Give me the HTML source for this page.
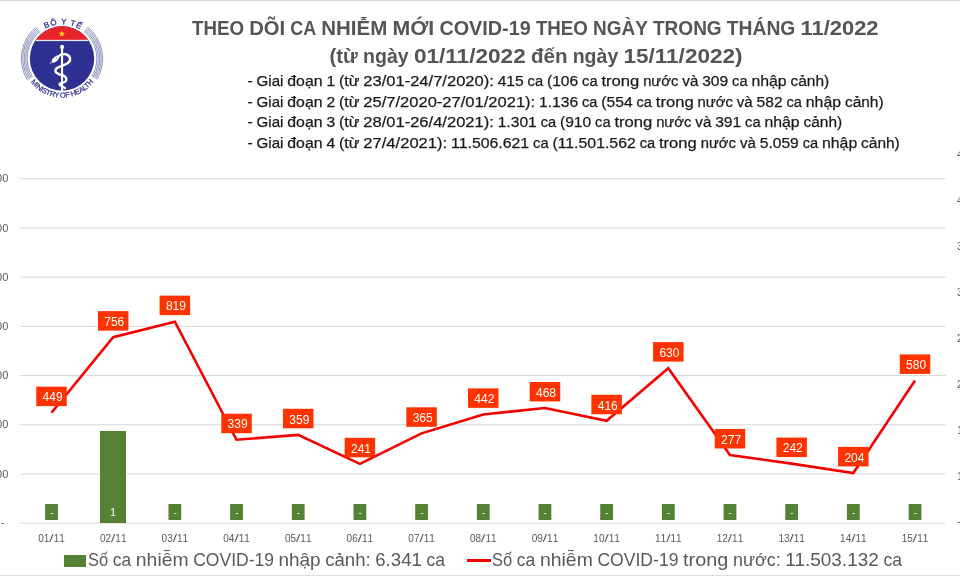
<!DOCTYPE html>
<html><head><meta charset="utf-8">
<style>
html,body{margin:0;padding:0;background:#fff;}
body{width:960px;height:576px;overflow:hidden;position:relative;}
svg{position:absolute;left:0;top:0;display:block;will-change:transform;}
text{font-family:"Liberation Sans",sans-serif;}
</style></head><body>
<svg width="960" height="576" viewBox="0 0 960 576">
<rect x="0" y="0" width="960" height="576" fill="#fff"/>
<rect x="0" y="0" width="960" height="1" fill="#d9d9d9"/>
<rect x="0" y="575" width="960" height="1" fill="#dcdcdc"/>
<g id="logo"><path d="M40.04 31.38A34.9 34.9 0 0 0 32.40 76.99M83.96 31.38A34.9 34.9 0 0 1 91.92 76.47M39.12 30.25A36.35 36.35 0 0 0 31.17 77.76M84.88 30.25A36.35 36.35 0 0 1 93.16 77.22M38.21 29.12A37.8 37.8 0 0 0 29.94 78.53M85.79 29.12A37.8 37.8 0 0 1 94.40 77.97M37.30 28.00A39.25 39.25 0 0 0 28.71 79.30M86.70 28.00A39.25 39.25 0 0 1 95.64 78.72M36.39 26.87A40.7 40.7 0 0 0 27.48 80.07M87.61 26.87A40.7 40.7 0 0 1 96.89 79.46" fill="none" stroke="#7479ad" stroke-width="0.8"/>
<circle cx="62.0" cy="58.5" r="32.2" fill="#2e3191"/>
<path d="M35.64 40.0A32.2 32.2 0 0 1 88.36 40.0Z" fill="#e8232a"/>
<rect x="35.64" y="39.8" width="52.71" height="1.3" fill="#e6e6f0"/>
<polygon points="61.80,30.50 61.01,32.71 58.66,32.78 60.52,34.22 59.86,36.47 61.80,35.15 63.74,36.47 63.08,34.22 64.94,32.78 62.59,32.71" fill="#ffe600"/>
<rect x="61.0" y="46" width="2.1" height="45" fill="#fff"/>
<ellipse cx="62.1" cy="47" rx="2.0" ry="2.2" fill="#fff"/>
<path d="M59.7 55.3 C63 53.5 68.5 53.5 70 58 C71 62 66 64.5 62 65.8 C58 67 55 68.5 55.4 71 C55.8 73.5 59 74.5 63 75.5 C66 76.5 67.5 79 65.5 81.5 C64 83 60 82.5 59.5 84.2 C59.3 85.5 62 86 65 88" fill="none" stroke="#fff" stroke-width="2.4" stroke-linecap="round" stroke-linejoin="round"/>
<ellipse cx="55.6" cy="59" rx="4.8" ry="2.2" transform="rotate(-42 55.6 59)" fill="#fff"/>
<circle cx="56.6" cy="57.9" r="0.5" fill="#2e3191"/>
<path d="M51.6 62.3 L49.8 63.6" stroke="#fff" stroke-width="0.8"/>
<path id="lgt" d="M27.80 58.5A34.2 34.2 0 0 1 96.20 58.5" fill="none"/>
<text font-size="8.0" font-weight="normal" fill="#2e3191" stroke="#2e3191" stroke-width="0.3" letter-spacing="0.85"><textPath href="#lgt" startOffset="51.2%" text-anchor="middle">BÔ Y TẾ</textPath></text>
<path id="lgb" d="M22.80 58.5A39.2 39.2 0 0 0 101.20 58.5" fill="none"/>
<text font-size="7.4" font-weight="normal" fill="#2e3191" letter-spacing="-0.3" stroke="#2e3191" stroke-width="0.2"><textPath href="#lgb" startOffset="50%" text-anchor="middle">MINISTRY OF HEALTH</textPath></text></g>
<text x="192.10" y="35.2" font-size="21" font-weight="bold" fill="#555555" textLength="52.01" lengthAdjust="spacingAndGlyphs">THEO</text>
<text x="249.25" y="35.2" font-size="21" font-weight="bold" fill="#555555" textLength="35.87" lengthAdjust="spacingAndGlyphs">DÕI</text>
<text x="290.27" y="35.2" font-size="21" font-weight="bold" fill="#555555" textLength="25.89" lengthAdjust="spacingAndGlyphs">CA</text>
<text x="321.30" y="35.2" font-size="21" font-weight="bold" fill="#555555" textLength="65.96" lengthAdjust="spacingAndGlyphs">NHIỄM</text>
<text x="392.40" y="35.2" font-size="21" font-weight="bold" fill="#555555" textLength="41.84" lengthAdjust="spacingAndGlyphs">MỚI</text>
<text x="439.39" y="35.2" font-size="21" font-weight="bold" fill="#555555" textLength="91.37" lengthAdjust="spacingAndGlyphs">COVID-19</text>
<text x="535.90" y="35.2" font-size="21" font-weight="bold" fill="#555555" textLength="52.01" lengthAdjust="spacingAndGlyphs">THEO</text>
<text x="593.05" y="35.2" font-size="21" font-weight="bold" fill="#555555" textLength="54.81" lengthAdjust="spacingAndGlyphs">NGÀY</text>
<text x="653.01" y="35.2" font-size="21" font-weight="bold" fill="#555555" textLength="68.64" lengthAdjust="spacingAndGlyphs">TRONG</text>
<text x="726.79" y="35.2" font-size="21" font-weight="bold" fill="#555555" textLength="68.59" lengthAdjust="spacingAndGlyphs">THÁNG</text>
<text x="800.53" y="35.2" font-size="21" font-weight="bold" fill="#555555" textLength="78.07" lengthAdjust="spacingAndGlyphs">11/2022</text>
<text x="329.50" y="62.6" font-size="21" font-weight="bold" fill="#555555" textLength="28.34" lengthAdjust="spacingAndGlyphs">(từ</text>
<text x="363.07" y="62.6" font-size="21" font-weight="bold" fill="#555555" textLength="45.62" lengthAdjust="spacingAndGlyphs">ngày</text>
<text x="413.92" y="62.6" font-size="21" font-weight="bold" fill="#555555" textLength="111.79" lengthAdjust="spacingAndGlyphs">01/11/2022</text>
<text x="530.94" y="62.6" font-size="21" font-weight="bold" fill="#555555" textLength="36.48" lengthAdjust="spacingAndGlyphs">đến</text>
<text x="572.65" y="62.6" font-size="21" font-weight="bold" fill="#555555" textLength="45.62" lengthAdjust="spacingAndGlyphs">ngày</text>
<text x="623.49" y="62.6" font-size="21" font-weight="bold" fill="#555555" textLength="119.01" lengthAdjust="spacingAndGlyphs">15/11/2022)</text>
<text x="247.40" y="85.9" font-size="15.5" fill="#1a1a1a" textLength="5.25" lengthAdjust="spacingAndGlyphs" stroke="#1a1a1a" stroke-width="0.25">-</text>
<text x="256.52" y="85.9" font-size="15.5" fill="#1a1a1a" textLength="26.89" lengthAdjust="spacingAndGlyphs" stroke="#1a1a1a" stroke-width="0.25">Giai</text>
<text x="287.29" y="85.9" font-size="15.5" fill="#1a1a1a" textLength="35.26" lengthAdjust="spacingAndGlyphs" stroke="#1a1a1a" stroke-width="0.25">đoạn</text>
<text x="326.42" y="85.9" font-size="15.5" fill="#1a1a1a" textLength="8.69" lengthAdjust="spacingAndGlyphs" stroke="#1a1a1a" stroke-width="0.25">1</text>
<text x="338.98" y="85.9" font-size="15.5" fill="#1a1a1a" textLength="20.48" lengthAdjust="spacingAndGlyphs" stroke="#1a1a1a" stroke-width="0.25">(từ</text>
<text x="363.34" y="85.9" font-size="15.5" fill="#1a1a1a" textLength="130.47" lengthAdjust="spacingAndGlyphs" stroke="#1a1a1a" stroke-width="0.25">23/01-24/7/2020):</text>
<text x="497.69" y="85.9" font-size="15.5" fill="#1a1a1a" textLength="26.06" lengthAdjust="spacingAndGlyphs" stroke="#1a1a1a" stroke-width="0.25">415</text>
<text x="527.62" y="85.9" font-size="15.5" fill="#1a1a1a" textLength="15.46" lengthAdjust="spacingAndGlyphs" stroke="#1a1a1a" stroke-width="0.25">ca</text>
<text x="546.96" y="85.9" font-size="15.5" fill="#1a1a1a" textLength="31.26" lengthAdjust="spacingAndGlyphs" stroke="#1a1a1a" stroke-width="0.25">(106</text>
<text x="582.09" y="85.9" font-size="15.5" fill="#1a1a1a" textLength="15.46" lengthAdjust="spacingAndGlyphs" stroke="#1a1a1a" stroke-width="0.25">ca</text>
<text x="601.42" y="85.9" font-size="15.5" fill="#1a1a1a" textLength="37.83" lengthAdjust="spacingAndGlyphs" stroke="#1a1a1a" stroke-width="0.25">trong</text>
<text x="643.13" y="85.9" font-size="15.5" fill="#1a1a1a" textLength="35.33" lengthAdjust="spacingAndGlyphs" stroke="#1a1a1a" stroke-width="0.25">nước</text>
<text x="682.34" y="85.9" font-size="15.5" fill="#1a1a1a" textLength="15.95" lengthAdjust="spacingAndGlyphs" stroke="#1a1a1a" stroke-width="0.25">và</text>
<text x="702.16" y="85.9" font-size="15.5" fill="#1a1a1a" textLength="26.06" lengthAdjust="spacingAndGlyphs" stroke="#1a1a1a" stroke-width="0.25">309</text>
<text x="732.10" y="85.9" font-size="15.5" fill="#1a1a1a" textLength="15.46" lengthAdjust="spacingAndGlyphs" stroke="#1a1a1a" stroke-width="0.25">ca</text>
<text x="751.43" y="85.9" font-size="15.5" fill="#1a1a1a" textLength="35.23" lengthAdjust="spacingAndGlyphs" stroke="#1a1a1a" stroke-width="0.25">nhập</text>
<text x="790.53" y="85.9" font-size="15.5" fill="#1a1a1a" textLength="38.67" lengthAdjust="spacingAndGlyphs" stroke="#1a1a1a" stroke-width="0.25">cảnh)</text>
<text x="247.40" y="106.6" font-size="15.5" fill="#1a1a1a" textLength="5.25" lengthAdjust="spacingAndGlyphs" stroke="#1a1a1a" stroke-width="0.25">-</text>
<text x="256.52" y="106.6" font-size="15.5" fill="#1a1a1a" textLength="26.89" lengthAdjust="spacingAndGlyphs" stroke="#1a1a1a" stroke-width="0.25">Giai</text>
<text x="287.29" y="106.6" font-size="15.5" fill="#1a1a1a" textLength="35.26" lengthAdjust="spacingAndGlyphs" stroke="#1a1a1a" stroke-width="0.25">đoạn</text>
<text x="326.42" y="106.6" font-size="15.5" fill="#1a1a1a" textLength="8.69" lengthAdjust="spacingAndGlyphs" stroke="#1a1a1a" stroke-width="0.25">2</text>
<text x="338.98" y="106.6" font-size="15.5" fill="#1a1a1a" textLength="20.48" lengthAdjust="spacingAndGlyphs" stroke="#1a1a1a" stroke-width="0.25">(từ</text>
<text x="363.34" y="106.6" font-size="15.5" fill="#1a1a1a" textLength="171.85" lengthAdjust="spacingAndGlyphs" stroke="#1a1a1a" stroke-width="0.25">25/7/2020-27/01/2021):</text>
<text x="539.06" y="106.6" font-size="15.5" fill="#1a1a1a" textLength="39.08" lengthAdjust="spacingAndGlyphs" stroke="#1a1a1a" stroke-width="0.25">1.136</text>
<text x="582.01" y="106.6" font-size="15.5" fill="#1a1a1a" textLength="15.46" lengthAdjust="spacingAndGlyphs" stroke="#1a1a1a" stroke-width="0.25">ca</text>
<text x="601.35" y="106.6" font-size="15.5" fill="#1a1a1a" textLength="31.26" lengthAdjust="spacingAndGlyphs" stroke="#1a1a1a" stroke-width="0.25">(554</text>
<text x="636.48" y="106.6" font-size="15.5" fill="#1a1a1a" textLength="15.46" lengthAdjust="spacingAndGlyphs" stroke="#1a1a1a" stroke-width="0.25">ca</text>
<text x="655.81" y="106.6" font-size="15.5" fill="#1a1a1a" textLength="37.83" lengthAdjust="spacingAndGlyphs" stroke="#1a1a1a" stroke-width="0.25">trong</text>
<text x="697.52" y="106.6" font-size="15.5" fill="#1a1a1a" textLength="35.33" lengthAdjust="spacingAndGlyphs" stroke="#1a1a1a" stroke-width="0.25">nước</text>
<text x="736.73" y="106.6" font-size="15.5" fill="#1a1a1a" textLength="15.95" lengthAdjust="spacingAndGlyphs" stroke="#1a1a1a" stroke-width="0.25">và</text>
<text x="756.55" y="106.6" font-size="15.5" fill="#1a1a1a" textLength="26.06" lengthAdjust="spacingAndGlyphs" stroke="#1a1a1a" stroke-width="0.25">582</text>
<text x="786.49" y="106.6" font-size="15.5" fill="#1a1a1a" textLength="15.46" lengthAdjust="spacingAndGlyphs" stroke="#1a1a1a" stroke-width="0.25">ca</text>
<text x="805.82" y="106.6" font-size="15.5" fill="#1a1a1a" textLength="35.23" lengthAdjust="spacingAndGlyphs" stroke="#1a1a1a" stroke-width="0.25">nhập</text>
<text x="844.92" y="106.6" font-size="15.5" fill="#1a1a1a" textLength="38.67" lengthAdjust="spacingAndGlyphs" stroke="#1a1a1a" stroke-width="0.25">cảnh)</text>
<text x="247.40" y="127.3" font-size="15.5" fill="#1a1a1a" textLength="5.25" lengthAdjust="spacingAndGlyphs" stroke="#1a1a1a" stroke-width="0.25">-</text>
<text x="256.52" y="127.3" font-size="15.5" fill="#1a1a1a" textLength="26.89" lengthAdjust="spacingAndGlyphs" stroke="#1a1a1a" stroke-width="0.25">Giai</text>
<text x="287.29" y="127.3" font-size="15.5" fill="#1a1a1a" textLength="35.26" lengthAdjust="spacingAndGlyphs" stroke="#1a1a1a" stroke-width="0.25">đoạn</text>
<text x="326.42" y="127.3" font-size="15.5" fill="#1a1a1a" textLength="8.69" lengthAdjust="spacingAndGlyphs" stroke="#1a1a1a" stroke-width="0.25">3</text>
<text x="338.98" y="127.3" font-size="15.5" fill="#1a1a1a" textLength="20.48" lengthAdjust="spacingAndGlyphs" stroke="#1a1a1a" stroke-width="0.25">(từ</text>
<text x="363.34" y="127.3" font-size="15.5" fill="#1a1a1a" textLength="130.47" lengthAdjust="spacingAndGlyphs" stroke="#1a1a1a" stroke-width="0.25">28/01-26/4/2021):</text>
<text x="497.69" y="127.3" font-size="15.5" fill="#1a1a1a" textLength="39.08" lengthAdjust="spacingAndGlyphs" stroke="#1a1a1a" stroke-width="0.25">1.301</text>
<text x="540.64" y="127.3" font-size="15.5" fill="#1a1a1a" textLength="15.46" lengthAdjust="spacingAndGlyphs" stroke="#1a1a1a" stroke-width="0.25">ca</text>
<text x="559.97" y="127.3" font-size="15.5" fill="#1a1a1a" textLength="31.26" lengthAdjust="spacingAndGlyphs" stroke="#1a1a1a" stroke-width="0.25">(910</text>
<text x="595.10" y="127.3" font-size="15.5" fill="#1a1a1a" textLength="15.46" lengthAdjust="spacingAndGlyphs" stroke="#1a1a1a" stroke-width="0.25">ca</text>
<text x="614.44" y="127.3" font-size="15.5" fill="#1a1a1a" textLength="37.83" lengthAdjust="spacingAndGlyphs" stroke="#1a1a1a" stroke-width="0.25">trong</text>
<text x="656.14" y="127.3" font-size="15.5" fill="#1a1a1a" textLength="35.33" lengthAdjust="spacingAndGlyphs" stroke="#1a1a1a" stroke-width="0.25">nước</text>
<text x="695.35" y="127.3" font-size="15.5" fill="#1a1a1a" textLength="15.95" lengthAdjust="spacingAndGlyphs" stroke="#1a1a1a" stroke-width="0.25">và</text>
<text x="715.18" y="127.3" font-size="15.5" fill="#1a1a1a" textLength="26.06" lengthAdjust="spacingAndGlyphs" stroke="#1a1a1a" stroke-width="0.25">391</text>
<text x="745.11" y="127.3" font-size="15.5" fill="#1a1a1a" textLength="15.46" lengthAdjust="spacingAndGlyphs" stroke="#1a1a1a" stroke-width="0.25">ca</text>
<text x="764.45" y="127.3" font-size="15.5" fill="#1a1a1a" textLength="35.23" lengthAdjust="spacingAndGlyphs" stroke="#1a1a1a" stroke-width="0.25">nhập</text>
<text x="803.55" y="127.3" font-size="15.5" fill="#1a1a1a" textLength="38.67" lengthAdjust="spacingAndGlyphs" stroke="#1a1a1a" stroke-width="0.25">cảnh)</text>
<text x="247.40" y="148.0" font-size="15.5" fill="#1a1a1a" textLength="5.25" lengthAdjust="spacingAndGlyphs" stroke="#1a1a1a" stroke-width="0.25">-</text>
<text x="256.52" y="148.0" font-size="15.5" fill="#1a1a1a" textLength="26.89" lengthAdjust="spacingAndGlyphs" stroke="#1a1a1a" stroke-width="0.25">Giai</text>
<text x="287.29" y="148.0" font-size="15.5" fill="#1a1a1a" textLength="35.26" lengthAdjust="spacingAndGlyphs" stroke="#1a1a1a" stroke-width="0.25">đoạn</text>
<text x="326.42" y="148.0" font-size="15.5" fill="#1a1a1a" textLength="8.69" lengthAdjust="spacingAndGlyphs" stroke="#1a1a1a" stroke-width="0.25">4</text>
<text x="338.98" y="148.0" font-size="15.5" fill="#1a1a1a" textLength="20.48" lengthAdjust="spacingAndGlyphs" stroke="#1a1a1a" stroke-width="0.25">(từ</text>
<text x="363.34" y="148.0" font-size="15.5" fill="#1a1a1a" textLength="83.85" lengthAdjust="spacingAndGlyphs" stroke="#1a1a1a" stroke-width="0.25">27/4/2021):</text>
<text x="451.06" y="148.0" font-size="15.5" fill="#1a1a1a" textLength="78.15" lengthAdjust="spacingAndGlyphs" stroke="#1a1a1a" stroke-width="0.25">11.506.621</text>
<text x="533.09" y="148.0" font-size="15.5" fill="#1a1a1a" textLength="15.46" lengthAdjust="spacingAndGlyphs" stroke="#1a1a1a" stroke-width="0.25">ca</text>
<text x="552.42" y="148.0" font-size="15.5" fill="#1a1a1a" textLength="83.35" lengthAdjust="spacingAndGlyphs" stroke="#1a1a1a" stroke-width="0.25">(11.501.562</text>
<text x="639.64" y="148.0" font-size="15.5" fill="#1a1a1a" textLength="15.46" lengthAdjust="spacingAndGlyphs" stroke="#1a1a1a" stroke-width="0.25">ca</text>
<text x="658.98" y="148.0" font-size="15.5" fill="#1a1a1a" textLength="37.83" lengthAdjust="spacingAndGlyphs" stroke="#1a1a1a" stroke-width="0.25">trong</text>
<text x="700.68" y="148.0" font-size="15.5" fill="#1a1a1a" textLength="35.33" lengthAdjust="spacingAndGlyphs" stroke="#1a1a1a" stroke-width="0.25">nước</text>
<text x="739.89" y="148.0" font-size="15.5" fill="#1a1a1a" textLength="15.95" lengthAdjust="spacingAndGlyphs" stroke="#1a1a1a" stroke-width="0.25">và</text>
<text x="759.72" y="148.0" font-size="15.5" fill="#1a1a1a" textLength="39.08" lengthAdjust="spacingAndGlyphs" stroke="#1a1a1a" stroke-width="0.25">5.059</text>
<text x="802.67" y="148.0" font-size="15.5" fill="#1a1a1a" textLength="15.46" lengthAdjust="spacingAndGlyphs" stroke="#1a1a1a" stroke-width="0.25">ca</text>
<text x="822.00" y="148.0" font-size="15.5" fill="#1a1a1a" textLength="35.23" lengthAdjust="spacingAndGlyphs" stroke="#1a1a1a" stroke-width="0.25">nhập</text>
<text x="861.10" y="148.0" font-size="15.5" fill="#1a1a1a" textLength="38.67" lengthAdjust="spacingAndGlyphs" stroke="#1a1a1a" stroke-width="0.25">cảnh)</text>
<rect x="20" y="178.25" width="925.5" height="1" fill="#d9d9d9"/>
<rect x="20" y="227.45" width="925.5" height="1" fill="#d9d9d9"/>
<rect x="20" y="276.65" width="925.5" height="1" fill="#d9d9d9"/>
<rect x="20" y="325.85" width="925.5" height="1" fill="#d9d9d9"/>
<rect x="20" y="375.05" width="925.5" height="1" fill="#d9d9d9"/>
<rect x="20" y="424.25" width="925.5" height="1" fill="#d9d9d9"/>
<rect x="20" y="473.45" width="925.5" height="1" fill="#d9d9d9"/>
<rect x="20" y="522.65" width="925.5" height="1" fill="#d9d9d9"/>
<text x="8.3" y="182.45" font-size="11" fill="#595959" text-anchor="end">1.400</text>
<text x="8.3" y="231.65" font-size="11" fill="#595959" text-anchor="end">1.200</text>
<text x="8.3" y="280.85" font-size="11" fill="#595959" text-anchor="end">1.000</text>
<text x="8.3" y="330.05" font-size="11" fill="#595959" text-anchor="end">800</text>
<text x="8.3" y="379.25" font-size="11" fill="#595959" text-anchor="end">600</text>
<text x="8.3" y="428.45" font-size="11" fill="#595959" text-anchor="end">400</text>
<text x="8.3" y="477.65" font-size="11" fill="#595959" text-anchor="end">200</text>
<text x="4.3" y="525.85" font-size="11" fill="#595959" text-anchor="end">-</text>
<text x="957" y="157.70" font-size="11" fill="#595959">4</text>
<text x="957" y="203.70" font-size="11" fill="#595959">4</text>
<text x="957" y="249.70" font-size="11" fill="#595959">3</text>
<text x="957" y="295.70" font-size="11" fill="#595959">3</text>
<text x="957" y="341.70" font-size="11" fill="#595959">2</text>
<text x="957" y="387.70" font-size="11" fill="#595959">2</text>
<text x="957" y="433.70" font-size="11" fill="#595959">1</text>
<text x="957" y="479.70" font-size="11" fill="#595959">1</text>
<text x="957" y="524.70" font-size="11" fill="#595959">-</text>
<rect x="45.10" y="504" width="12.8" height="16" fill="#548235"/>
<text x="51.80" y="515.8" font-size="10" fill="#e6ebe2" text-anchor="middle">-</text>
<rect x="100" y="431" width="26" height="92" fill="#548235"/>
<text x="113.18" y="516" font-size="11" fill="#fff" text-anchor="middle">1</text>
<rect x="168.46" y="504" width="12.8" height="16" fill="#548235"/>
<text x="175.16" y="515.8" font-size="10" fill="#e6ebe2" text-anchor="middle">-</text>
<rect x="230.14" y="504" width="12.8" height="16" fill="#548235"/>
<text x="236.84" y="515.8" font-size="10" fill="#e6ebe2" text-anchor="middle">-</text>
<rect x="291.82" y="504" width="12.8" height="16" fill="#548235"/>
<text x="298.52" y="515.8" font-size="10" fill="#e6ebe2" text-anchor="middle">-</text>
<rect x="353.50" y="504" width="12.8" height="16" fill="#548235"/>
<text x="360.20" y="515.8" font-size="10" fill="#e6ebe2" text-anchor="middle">-</text>
<rect x="415.18" y="504" width="12.8" height="16" fill="#548235"/>
<text x="421.88" y="515.8" font-size="10" fill="#e6ebe2" text-anchor="middle">-</text>
<rect x="476.86" y="504" width="12.8" height="16" fill="#548235"/>
<text x="483.56" y="515.8" font-size="10" fill="#e6ebe2" text-anchor="middle">-</text>
<rect x="538.54" y="504" width="12.8" height="16" fill="#548235"/>
<text x="545.24" y="515.8" font-size="10" fill="#e6ebe2" text-anchor="middle">-</text>
<rect x="600.22" y="504" width="12.8" height="16" fill="#548235"/>
<text x="606.92" y="515.8" font-size="10" fill="#e6ebe2" text-anchor="middle">-</text>
<rect x="661.90" y="504" width="12.8" height="16" fill="#548235"/>
<text x="668.60" y="515.8" font-size="10" fill="#e6ebe2" text-anchor="middle">-</text>
<rect x="723.58" y="504" width="12.8" height="16" fill="#548235"/>
<text x="730.28" y="515.8" font-size="10" fill="#e6ebe2" text-anchor="middle">-</text>
<rect x="785.26" y="504" width="12.8" height="16" fill="#548235"/>
<text x="791.96" y="515.8" font-size="10" fill="#e6ebe2" text-anchor="middle">-</text>
<rect x="846.94" y="504" width="12.8" height="16" fill="#548235"/>
<text x="853.64" y="515.8" font-size="10" fill="#e6ebe2" text-anchor="middle">-</text>
<rect x="908.62" y="504" width="12.8" height="16" fill="#548235"/>
<text x="915.32" y="515.8" font-size="10" fill="#e6ebe2" text-anchor="middle">-</text>
<text x="38.22" y="541.7" font-size="10.6" fill="#595959" textLength="5.58" lengthAdjust="spacingAndGlyphs">0</text>
<text x="43.80" y="541.7" font-size="10.6" fill="#595959" textLength="5.58" lengthAdjust="spacingAndGlyphs">1</text>
<text x="49.37" y="541.7" font-size="10.6" fill="#595959" textLength="4.25" lengthAdjust="spacingAndGlyphs">/</text>
<text x="53.63" y="541.7" font-size="10.6" fill="#595959" textLength="5.58" lengthAdjust="spacingAndGlyphs">1</text>
<text x="59.20" y="541.7" font-size="10.6" fill="#595959" textLength="5.58" lengthAdjust="spacingAndGlyphs">1</text>
<text x="99.90" y="541.7" font-size="10.6" fill="#595959" textLength="5.58" lengthAdjust="spacingAndGlyphs">0</text>
<text x="105.48" y="541.7" font-size="10.6" fill="#595959" textLength="5.58" lengthAdjust="spacingAndGlyphs">2</text>
<text x="111.05" y="541.7" font-size="10.6" fill="#595959" textLength="4.25" lengthAdjust="spacingAndGlyphs">/</text>
<text x="115.31" y="541.7" font-size="10.6" fill="#595959" textLength="5.58" lengthAdjust="spacingAndGlyphs">1</text>
<text x="120.88" y="541.7" font-size="10.6" fill="#595959" textLength="5.58" lengthAdjust="spacingAndGlyphs">1</text>
<text x="161.58" y="541.7" font-size="10.6" fill="#595959" textLength="5.58" lengthAdjust="spacingAndGlyphs">0</text>
<text x="167.16" y="541.7" font-size="10.6" fill="#595959" textLength="5.58" lengthAdjust="spacingAndGlyphs">3</text>
<text x="172.73" y="541.7" font-size="10.6" fill="#595959" textLength="4.25" lengthAdjust="spacingAndGlyphs">/</text>
<text x="176.99" y="541.7" font-size="10.6" fill="#595959" textLength="5.58" lengthAdjust="spacingAndGlyphs">1</text>
<text x="182.56" y="541.7" font-size="10.6" fill="#595959" textLength="5.58" lengthAdjust="spacingAndGlyphs">1</text>
<text x="223.26" y="541.7" font-size="10.6" fill="#595959" textLength="5.58" lengthAdjust="spacingAndGlyphs">0</text>
<text x="228.84" y="541.7" font-size="10.6" fill="#595959" textLength="5.58" lengthAdjust="spacingAndGlyphs">4</text>
<text x="234.41" y="541.7" font-size="10.6" fill="#595959" textLength="4.25" lengthAdjust="spacingAndGlyphs">/</text>
<text x="238.67" y="541.7" font-size="10.6" fill="#595959" textLength="5.58" lengthAdjust="spacingAndGlyphs">1</text>
<text x="244.24" y="541.7" font-size="10.6" fill="#595959" textLength="5.58" lengthAdjust="spacingAndGlyphs">1</text>
<text x="284.94" y="541.7" font-size="10.6" fill="#595959" textLength="5.58" lengthAdjust="spacingAndGlyphs">0</text>
<text x="290.52" y="541.7" font-size="10.6" fill="#595959" textLength="5.58" lengthAdjust="spacingAndGlyphs">5</text>
<text x="296.09" y="541.7" font-size="10.6" fill="#595959" textLength="4.25" lengthAdjust="spacingAndGlyphs">/</text>
<text x="300.35" y="541.7" font-size="10.6" fill="#595959" textLength="5.58" lengthAdjust="spacingAndGlyphs">1</text>
<text x="305.92" y="541.7" font-size="10.6" fill="#595959" textLength="5.58" lengthAdjust="spacingAndGlyphs">1</text>
<text x="346.62" y="541.7" font-size="10.6" fill="#595959" textLength="5.58" lengthAdjust="spacingAndGlyphs">0</text>
<text x="352.20" y="541.7" font-size="10.6" fill="#595959" textLength="5.58" lengthAdjust="spacingAndGlyphs">6</text>
<text x="357.77" y="541.7" font-size="10.6" fill="#595959" textLength="4.25" lengthAdjust="spacingAndGlyphs">/</text>
<text x="362.03" y="541.7" font-size="10.6" fill="#595959" textLength="5.58" lengthAdjust="spacingAndGlyphs">1</text>
<text x="367.60" y="541.7" font-size="10.6" fill="#595959" textLength="5.58" lengthAdjust="spacingAndGlyphs">1</text>
<text x="408.30" y="541.7" font-size="10.6" fill="#595959" textLength="5.58" lengthAdjust="spacingAndGlyphs">0</text>
<text x="413.88" y="541.7" font-size="10.6" fill="#595959" textLength="5.58" lengthAdjust="spacingAndGlyphs">7</text>
<text x="419.45" y="541.7" font-size="10.6" fill="#595959" textLength="4.25" lengthAdjust="spacingAndGlyphs">/</text>
<text x="423.71" y="541.7" font-size="10.6" fill="#595959" textLength="5.58" lengthAdjust="spacingAndGlyphs">1</text>
<text x="429.28" y="541.7" font-size="10.6" fill="#595959" textLength="5.58" lengthAdjust="spacingAndGlyphs">1</text>
<text x="469.98" y="541.7" font-size="10.6" fill="#595959" textLength="5.58" lengthAdjust="spacingAndGlyphs">0</text>
<text x="475.56" y="541.7" font-size="10.6" fill="#595959" textLength="5.58" lengthAdjust="spacingAndGlyphs">8</text>
<text x="481.13" y="541.7" font-size="10.6" fill="#595959" textLength="4.25" lengthAdjust="spacingAndGlyphs">/</text>
<text x="485.39" y="541.7" font-size="10.6" fill="#595959" textLength="5.58" lengthAdjust="spacingAndGlyphs">1</text>
<text x="490.96" y="541.7" font-size="10.6" fill="#595959" textLength="5.58" lengthAdjust="spacingAndGlyphs">1</text>
<text x="531.66" y="541.7" font-size="10.6" fill="#595959" textLength="5.58" lengthAdjust="spacingAndGlyphs">0</text>
<text x="537.24" y="541.7" font-size="10.6" fill="#595959" textLength="5.58" lengthAdjust="spacingAndGlyphs">9</text>
<text x="542.81" y="541.7" font-size="10.6" fill="#595959" textLength="4.25" lengthAdjust="spacingAndGlyphs">/</text>
<text x="547.07" y="541.7" font-size="10.6" fill="#595959" textLength="5.58" lengthAdjust="spacingAndGlyphs">1</text>
<text x="552.64" y="541.7" font-size="10.6" fill="#595959" textLength="5.58" lengthAdjust="spacingAndGlyphs">1</text>
<text x="593.34" y="541.7" font-size="10.6" fill="#595959" textLength="5.58" lengthAdjust="spacingAndGlyphs">1</text>
<text x="598.92" y="541.7" font-size="10.6" fill="#595959" textLength="5.58" lengthAdjust="spacingAndGlyphs">0</text>
<text x="604.49" y="541.7" font-size="10.6" fill="#595959" textLength="4.25" lengthAdjust="spacingAndGlyphs">/</text>
<text x="608.75" y="541.7" font-size="10.6" fill="#595959" textLength="5.58" lengthAdjust="spacingAndGlyphs">1</text>
<text x="614.32" y="541.7" font-size="10.6" fill="#595959" textLength="5.58" lengthAdjust="spacingAndGlyphs">1</text>
<text x="655.02" y="541.7" font-size="10.6" fill="#595959" textLength="5.58" lengthAdjust="spacingAndGlyphs">1</text>
<text x="660.60" y="541.7" font-size="10.6" fill="#595959" textLength="5.58" lengthAdjust="spacingAndGlyphs">1</text>
<text x="666.17" y="541.7" font-size="10.6" fill="#595959" textLength="4.25" lengthAdjust="spacingAndGlyphs">/</text>
<text x="670.43" y="541.7" font-size="10.6" fill="#595959" textLength="5.58" lengthAdjust="spacingAndGlyphs">1</text>
<text x="676.00" y="541.7" font-size="10.6" fill="#595959" textLength="5.58" lengthAdjust="spacingAndGlyphs">1</text>
<text x="716.70" y="541.7" font-size="10.6" fill="#595959" textLength="5.58" lengthAdjust="spacingAndGlyphs">1</text>
<text x="722.28" y="541.7" font-size="10.6" fill="#595959" textLength="5.58" lengthAdjust="spacingAndGlyphs">2</text>
<text x="727.85" y="541.7" font-size="10.6" fill="#595959" textLength="4.25" lengthAdjust="spacingAndGlyphs">/</text>
<text x="732.11" y="541.7" font-size="10.6" fill="#595959" textLength="5.58" lengthAdjust="spacingAndGlyphs">1</text>
<text x="737.68" y="541.7" font-size="10.6" fill="#595959" textLength="5.58" lengthAdjust="spacingAndGlyphs">1</text>
<text x="778.38" y="541.7" font-size="10.6" fill="#595959" textLength="5.58" lengthAdjust="spacingAndGlyphs">1</text>
<text x="783.96" y="541.7" font-size="10.6" fill="#595959" textLength="5.58" lengthAdjust="spacingAndGlyphs">3</text>
<text x="789.53" y="541.7" font-size="10.6" fill="#595959" textLength="4.25" lengthAdjust="spacingAndGlyphs">/</text>
<text x="793.79" y="541.7" font-size="10.6" fill="#595959" textLength="5.58" lengthAdjust="spacingAndGlyphs">1</text>
<text x="799.36" y="541.7" font-size="10.6" fill="#595959" textLength="5.58" lengthAdjust="spacingAndGlyphs">1</text>
<text x="840.06" y="541.7" font-size="10.6" fill="#595959" textLength="5.58" lengthAdjust="spacingAndGlyphs">1</text>
<text x="845.64" y="541.7" font-size="10.6" fill="#595959" textLength="5.58" lengthAdjust="spacingAndGlyphs">4</text>
<text x="851.21" y="541.7" font-size="10.6" fill="#595959" textLength="4.25" lengthAdjust="spacingAndGlyphs">/</text>
<text x="855.47" y="541.7" font-size="10.6" fill="#595959" textLength="5.58" lengthAdjust="spacingAndGlyphs">1</text>
<text x="861.04" y="541.7" font-size="10.6" fill="#595959" textLength="5.58" lengthAdjust="spacingAndGlyphs">1</text>
<text x="901.74" y="541.7" font-size="10.6" fill="#595959" textLength="5.58" lengthAdjust="spacingAndGlyphs">1</text>
<text x="907.32" y="541.7" font-size="10.6" fill="#595959" textLength="5.58" lengthAdjust="spacingAndGlyphs">5</text>
<text x="912.89" y="541.7" font-size="10.6" fill="#595959" textLength="4.25" lengthAdjust="spacingAndGlyphs">/</text>
<text x="917.15" y="541.7" font-size="10.6" fill="#595959" textLength="5.58" lengthAdjust="spacingAndGlyphs">1</text>
<text x="922.72" y="541.7" font-size="10.6" fill="#595959" textLength="5.58" lengthAdjust="spacingAndGlyphs">1</text>
<polyline points="51.50,412.70 113.18,337.17 174.86,321.68 236.54,439.76 298.22,434.84 359.90,463.86 421.58,433.36 483.26,414.42 544.94,408.02 606.62,420.81 668.30,368.17 729.98,455.01 791.66,463.62 853.34,472.97 915.02,380.47" fill="none" stroke="#f20000" stroke-width="2.6" stroke-linejoin="miter" stroke-linecap="butt"/>
<rect x="36.25" y="386.65" width="30.5" height="19.5" fill="#ff3300"/>
<text x="52.60" y="401.40" font-size="12" fill="#fff" text-anchor="middle">449</text>
<rect x="97.93" y="311.12" width="30.5" height="19.5" fill="#ff3300"/>
<text x="114.28" y="325.87" font-size="12" fill="#fff" text-anchor="middle">756</text>
<rect x="159.61" y="295.63" width="30.5" height="19.5" fill="#ff3300"/>
<text x="175.96" y="310.38" font-size="12" fill="#fff" text-anchor="middle">819</text>
<rect x="221.29" y="413.71" width="30.5" height="19.5" fill="#ff3300"/>
<text x="237.64" y="428.46" font-size="12" fill="#fff" text-anchor="middle">339</text>
<rect x="282.97" y="408.79" width="30.5" height="19.5" fill="#ff3300"/>
<text x="299.32" y="423.54" font-size="12" fill="#fff" text-anchor="middle">359</text>
<rect x="344.65" y="437.81" width="30.5" height="19.5" fill="#ff3300"/>
<text x="361.00" y="452.56" font-size="12" fill="#fff" text-anchor="middle">241</text>
<rect x="406.33" y="407.31" width="30.5" height="19.5" fill="#ff3300"/>
<text x="422.68" y="422.06" font-size="12" fill="#fff" text-anchor="middle">365</text>
<rect x="468.01" y="388.37" width="30.5" height="19.5" fill="#ff3300"/>
<text x="484.36" y="403.12" font-size="12" fill="#fff" text-anchor="middle">442</text>
<rect x="529.69" y="381.97" width="30.5" height="19.5" fill="#ff3300"/>
<text x="546.04" y="396.72" font-size="12" fill="#fff" text-anchor="middle">468</text>
<rect x="591.37" y="394.76" width="30.5" height="19.5" fill="#ff3300"/>
<text x="607.72" y="409.51" font-size="12" fill="#fff" text-anchor="middle">416</text>
<rect x="653.05" y="342.12" width="30.5" height="19.5" fill="#ff3300"/>
<text x="669.40" y="356.87" font-size="12" fill="#fff" text-anchor="middle">630</text>
<rect x="714.73" y="428.96" width="30.5" height="19.5" fill="#ff3300"/>
<text x="731.08" y="443.71" font-size="12" fill="#fff" text-anchor="middle">277</text>
<rect x="776.41" y="437.57" width="30.5" height="19.5" fill="#ff3300"/>
<text x="792.76" y="452.32" font-size="12" fill="#fff" text-anchor="middle">242</text>
<rect x="838.09" y="446.92" width="30.5" height="19.5" fill="#ff3300"/>
<text x="854.44" y="461.67" font-size="12" fill="#fff" text-anchor="middle">204</text>
<rect x="899.77" y="354.42" width="30.5" height="19.5" fill="#ff3300"/>
<text x="916.12" y="369.17" font-size="12" fill="#fff" text-anchor="middle">580</text>
<rect x="64" y="555" width="22" height="12" fill="#548235"/>
<text x="88.00" y="565.8" font-size="18.5" fill="#595959" textLength="20.18" lengthAdjust="spacingAndGlyphs">Số</text>
<text x="112.80" y="565.8" font-size="18.5" fill="#595959" textLength="18.44" lengthAdjust="spacingAndGlyphs">ca</text>
<text x="135.87" y="565.8" font-size="18.5" fill="#595959" textLength="52.69" lengthAdjust="spacingAndGlyphs">nhiễm</text>
<text x="193.19" y="565.8" font-size="18.5" fill="#595959" textLength="80.77" lengthAdjust="spacingAndGlyphs">COVID-19</text>
<text x="278.58" y="565.8" font-size="18.5" fill="#595959" textLength="42.03" lengthAdjust="spacingAndGlyphs">nhập</text>
<text x="325.23" y="565.8" font-size="18.5" fill="#595959" textLength="45.40" lengthAdjust="spacingAndGlyphs">cảnh:</text>
<text x="375.26" y="565.8" font-size="18.5" fill="#595959" textLength="46.62" lengthAdjust="spacingAndGlyphs">6.341</text>
<text x="426.50" y="565.8" font-size="18.5" fill="#595959" textLength="18.44" lengthAdjust="spacingAndGlyphs">ca</text>
<rect x="467" y="559" width="24" height="3" fill="#f20000"/>
<text x="492.00" y="565.8" font-size="18.5" fill="#595959" textLength="20.23" lengthAdjust="spacingAndGlyphs">Số</text>
<text x="516.86" y="565.8" font-size="18.5" fill="#595959" textLength="18.49" lengthAdjust="spacingAndGlyphs">ca</text>
<text x="539.99" y="565.8" font-size="18.5" fill="#595959" textLength="52.82" lengthAdjust="spacingAndGlyphs">nhiễm</text>
<text x="597.44" y="565.8" font-size="18.5" fill="#595959" textLength="80.97" lengthAdjust="spacingAndGlyphs">COVID-19</text>
<text x="683.05" y="565.8" font-size="18.5" fill="#595959" textLength="45.24" lengthAdjust="spacingAndGlyphs">trong</text>
<text x="732.93" y="565.8" font-size="18.5" fill="#595959" textLength="47.75" lengthAdjust="spacingAndGlyphs">nước:</text>
<text x="785.31" y="565.8" font-size="18.5" fill="#595959" textLength="93.47" lengthAdjust="spacingAndGlyphs">11.503.132</text>
<text x="883.41" y="565.8" font-size="18.5" fill="#595959" textLength="18.49" lengthAdjust="spacingAndGlyphs">ca</text>
</svg>
</body></html>
